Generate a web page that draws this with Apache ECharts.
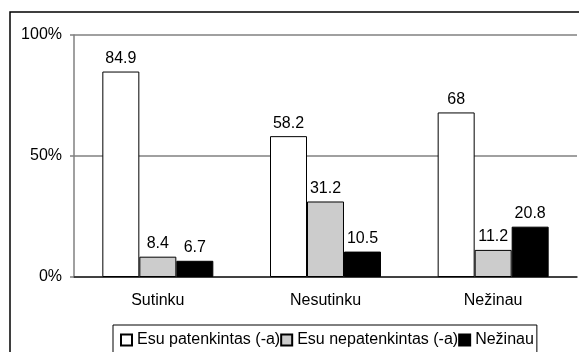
<!DOCTYPE html>
<html>
<head>
<meta charset="utf-8">
<script src="https://cdn.jsdelivr.net/npm/echarts@6/dist/echarts.min.js"></script>
<style>
  html, body { margin: 0; padding: 0; background: #fff; }
  #chart { width: 579px; height: 352px; }
</style>
</head>
<body>
<div id="chart"></div>
<script>
// Answer groups along the category axis
const categories = ['Sutinku', 'Nesutinku', 'Nežinau'];

// Respondent groups (one bar series each), values in percent
const seriesNames = ['Esu patenkintas (-a)', 'Esu nepatenkintas (-a)', 'Nežinau'];
const satisfied = [84.9, 58.2, 68];
const dissatisfied = [8.4, 31.2, 11.2];
const dontKnow = [6.7, 10.5, 20.8];

// Value axis
const yMin = 0;
const yMax = 100;
const yStep = 50;

const FONT = '"Liberation Sans", Arial, sans-serif';
const fills = ['#ffffff', '#cccccc', '#000000'];
const values = [satisfied, dissatisfied, dontKnow];

const chart = echarts.init(document.getElementById('chart'), null, { renderer: 'canvas' });

const series = seriesNames.map((name, i) => ({
  name: name,
  type: 'bar',
  data: values[i],
  barGap: '0%',
  barCategoryGap: '33.8%',
  itemStyle: { color: fills[i], borderColor: '#000', borderWidth: 1 },
  label: {
    show: true,
    position: 'top',
    distance: 5,
    color: '#000',
    fontFamily: FONT,
    fontSize: 16
  },
  emphasis: { disabled: true }
}));

chart.setOption({
  animation: false,
  backgroundColor: '#fff',
  textStyle: { fontFamily: FONT },
  grid: { left: 74, right: 2, top: 35, bottom: 75 },
  graphic: [{
    type: 'rect',
    silent: true,
    z: 100,
    shape: { x: 10, y: 12, width: 620, height: 420 },
    style: { fill: 'none', stroke: '#000', lineWidth: 1.5 }
  }],
  legend: {
    data: seriesNames,
    left: 113,
    top: 325,
    orient: 'horizontal',
    itemGap: 0,
    itemWidth: 11,
    itemHeight: 11,
    padding: [7, 3, 20, 7],
    borderColor: '#000',
    borderWidth: 1,
    selectedMode: false,
    icon: 'rect',
    textStyle: { color: '#000', fontFamily: FONT, fontSize: 16 }
  },
  xAxis: {
    type: 'category',
    data: categories,
    axisLine: { lineStyle: { color: '#222', width: 1.5 } },
    axisTick: { show: false },
    axisLabel: { color: '#000', fontFamily: FONT, fontSize: 16, margin: 16 },
    splitLine: { show: false }
  },
  yAxis: {
    type: 'value',
    min: yMin,
    max: yMax,
    interval: yStep,
    axisLine: { show: true, lineStyle: { color: '#808080', width: 1.5 } },
    axisTick: { show: true, length: 4, lineStyle: { color: '#808080', width: 1.5 } },
    axisLabel: { color: '#000', fontFamily: FONT, fontSize: 16, margin: 12, formatter: '{value}%' },
    splitLine: { show: true, lineStyle: { color: '#808080', width: 1.5 } }
  },
  series: series
});
</script>
</body>
</html>
